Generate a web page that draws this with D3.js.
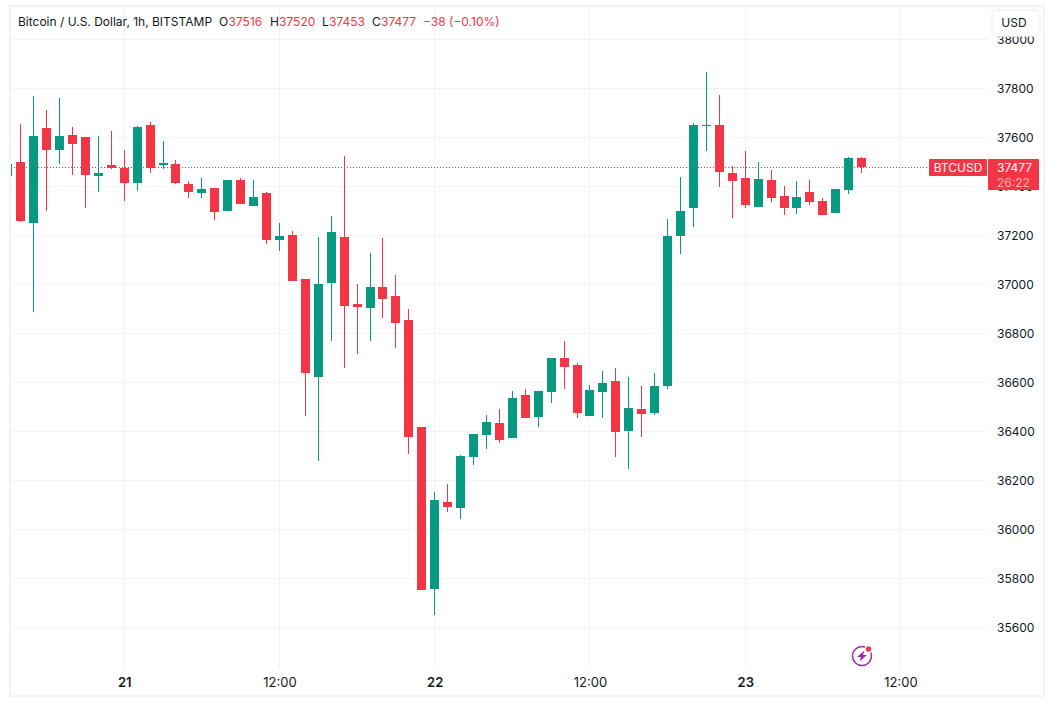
<!DOCTYPE html>
<html>
<head>
<meta charset="utf-8">
<script src="https://cdn.jsdelivr.net/npm/d3@7"></script>
<style>
html,body{margin:0;padding:0;background:#fff;overflow:hidden}
text{font-family:Inter,"Noto Sans",sans-serif;}
</style>
</head>
<body>
<div id="canvas"></div>
<script>
// hours counted from 21 00:00, first bar is cut by the left edge
var firstHour = -9;
var opens = [37442,37499,37250,37638,37548,37609,37601,37442,37487,37475,37413,37650,37487,37491,37409,37373,37393,37299,37426,37320,37373,37181,37201,37022,36622,37005,37193,36920,36903,36989,36952,36854,36418,35756,36111,36087,36295,36385,36434,36373,36548,36458,36560,36699,36671,36463,36560,36605,36401,36491,36475,36585,37197,37311,37646,37650,37454,37434,37316,37426,37360,37311,37377,37340,37291,37385,37516];
var highs = [37491,37654,37769,37711,37760,37642,37601,37605,37626,37548,37646,37662,37585,37507,37422,37434,37393,37426,37434,37426,37377,37250,37218,37022,37193,37279,37524,37001,37128,37189,37038,36899,36418,36152,36185,36303,36389,36467,36491,36565,36573,36565,36699,36769,36679,36589,36646,36658,36622,36585,36638,37267,37438,37658,37867,37773,37483,37544,37499,37467,37401,37422,37426,37352,37389,37520,37520];
var lows = [37442,37254,36887,37299,37491,37446,37311,37377,37471,37340,37381,37454,37471,37409,37352,37352,37262,37299,37328,37320,37164,37136,37013,36463,36279,36769,36658,36716,36769,36862,36740,36307,35752,35650,36071,36042,36262,36328,36352,36373,36454,36418,36515,36573,36454,36463,36454,36295,36246,36377,36467,36573,37124,37234,37544,37397,37271,37311,37316,37336,37283,37287,37324,37283,37291,37369,37453];
var closes = [37491,37258,37605,37548,37605,37573,37446,37454,37475,37413,37642,37475,37495,37413,37377,37389,37295,37426,37328,37356,37181,37197,37013,36638,37001,37213,36911,36907,36989,36940,36842,36377,35752,36120,36091,36299,36389,36438,36365,36536,36454,36565,36699,36662,36475,36569,36597,36397,36495,36471,36585,37197,37299,37650,37650,37458,37422,37324,37430,37352,37311,37356,37336,37283,37389,37516,37477];

var priceTicks = [38000,37800,37600,37400,37200,37000,36800,36600,36400,36200,36000,35800,35600];
var timeTicks = [0,12,24,36,48,60];
var timeLabels = ['21','12:00','22','12:00','23','12:00'];

var lastPrice = 37477;
var up = '#089981', down = '#f23645', grid = '#f2f3f8', frame = '#f0f3fa', ink = '#131722';

var W = 1054, H = 710;
var left = 11, right = 988, top_ = 7, bottom = 669;

var svg = d3.select('#canvas').append('svg')
    .attr('width',W).attr('height',H)
    .style('display','block');

svg.append('defs').append('clipPath').attr('id','plot-clip')
    .append('rect')
    .attr('x',left).attr('y',top_)
    .attr('width',right-left).attr('height',bottom-top_);

var x = d3.scaleLinear().domain([0,60]).range([124.2,900.48]);
var y = d3.scaleLinear().domain([37800,35600]).range([88.3,627.3]);

// frame around the widget
svg.append('rect')
    .attr('x',10).attr('y',6).attr('width',1034).attr('height',690)
    .attr('fill','#fff').attr('stroke',frame).attr('stroke-width',2);

//Grid
var gridG = svg.append('g').attr('shape-rendering','crispEdges');
gridG.selectAll('.hgrid').data(priceTicks).enter().append('line')
    .attr('class','hgrid')
    .attr('x1',left).attr('x2',right)
    .attr('y1',function(d){return Math.round(y(d))+0.5;})
    .attr('y2',function(d){return Math.round(y(d))+0.5;})
    .attr('stroke',grid);
gridG.selectAll('.vgrid').data(timeTicks).enter().append('line')
    .attr('class','vgrid')
    .attr('x1',function(d){return Math.floor(x(d))+0.5;})
    .attr('x2',function(d){return Math.floor(x(d))+0.5;})
    .attr('y1',top_).attr('y2',bottom)
    .attr('stroke',grid);

//Axes
var yAxis = d3.axisRight(y).tickValues(priceTicks).tickSize(0).tickPadding(0)
    .tickFormat(d3.format('d'));
var yG = svg.append('g').attr('transform','translate(997,0)').call(yAxis);
yG.select('.domain').remove();
yG.selectAll('text').attr('font-size',12).attr('fill',ink).attr('font-family','Inter');

var xAxis = d3.axisBottom(x).tickValues(timeTicks).tickSize(0).tickPadding(0)
    .tickFormat(function(d,i){return timeLabels[i];});
var xG = svg.append('g').attr('transform','translate(0,678)').call(xAxis);
xG.select('.domain').remove();
xG.selectAll('text').attr('font-size',13).attr('fill',ink).attr('font-family','Inter')
    .attr('font-weight',function(d,i){return timeLabels[i].length===2 ? 600 : 400;});

//Candles
var bars = opens.map(function(o,i){
    return {hour:firstHour+i, o:o, h:highs[i], l:lows[i], c:closes[i]};
});
var candles = svg.append('g').attr('clip-path','url(#plot-clip)')
    .attr('shape-rendering','crispEdges');
function color(d){ return d.c>=d.o ? up : down; }
function px(d){ return Math.floor(x(d.hour)); }

candles.selectAll('.wick').data(bars).enter().append('rect')
    .attr('class','wick')
    .attr('x',px).attr('width',1)
    .attr('y',function(d){return Math.round(y(d.h));})
    .attr('height',function(d){return Math.max(1,Math.round(y(d.l))-Math.round(y(d.h)));})
    .attr('fill',color);
candles.selectAll('.body').data(bars).enter().append('rect')
    .attr('class','body')
    .attr('x',function(d){return px(d)-4;}).attr('width',9)
    .attr('y',function(d){return Math.round(y(Math.max(d.o,d.c)));})
    .attr('height',function(d){return Math.max(1,Math.round(y(Math.min(d.o,d.c)))-Math.round(y(Math.max(d.o,d.c))));})
    .attr('fill',color);

//Last price line and labels
var ly = y(lastPrice);
svg.append('line')
    .attr('x1',left).attr('x2',929)
    .attr('y1',Math.floor(ly)+0.5).attr('y2',Math.floor(ly)+0.5)
    .attr('stroke',down).attr('stroke-dasharray','1 2')
    .attr('shape-rendering','crispEdges');
svg.append('rect').attr('x',929).attr('y',159).attr('width',58).attr('height',17)
    .attr('rx',1).attr('fill',down);
svg.append('text').attr('x',958).attr('y',172).attr('text-anchor','middle')
    .attr('font-size',12).attr('fill','#fff').text('BTCUSD');
svg.append('rect').attr('x',988).attr('y',159).attr('width',51).attr('height',31)
    .attr('rx',1).attr('fill',down);
svg.append('text').attr('x',997).attr('y',172)
    .attr('font-size',12).attr('fill','#fff').text(lastPrice);
svg.append('text').attr('x',997).attr('y',187)
    .attr('font-size',12).attr('fill','#fff').attr('fill-opacity',0.6).text('26:22');

//Header legend
var legend = [
    {x:18,t:'Bitcoin / U.S. Dollar, 1h, BITSTAMP',c:ink},
    {x:219,t:'O',c:ink},{x:228.5,t:'37516',c:down},
    {x:270,t:'H',c:ink},{x:279,t:'37520',c:down},
    {x:322,t:'L',c:ink},{x:329,t:'37453',c:down},
    {x:372,t:'C',c:ink},{x:381,t:'37477',c:down},
    {x:423,t:'\u221238 (\u22120.10%)',c:down}
];
svg.selectAll('.legend').data(legend).enter().append('text')
    .attr('class','legend')
    .attr('x',function(d){return d.x;}).attr('y',26)
    .attr('font-size',12).attr('fill',function(d){return d.c;})
    .text(function(d){return d.t;});

//Currency button
svg.append('rect').attr('x',992).attr('y',10).attr('width',48).attr('height',26)
    .attr('rx',4).attr('fill','#fff').attr('stroke',frame).attr('stroke-width',1.5);
svg.append('text').attr('x',1014).attr('y',27).attr('text-anchor','middle')
    .attr('font-size',12).attr('fill',ink).text('USD');

//Lightning badge
var badge = svg.append('g').attr('transform','translate(862,656)');
badge.append('circle').attr('r',9.5).attr('fill','none')
    .attr('stroke','#9c27b0').attr('stroke-width',1.5);
badge.append('path').attr('d','M2.5,-5.5 L-5,1 L-1,1 L-2.5,5.5 L5,-1 L1,-1 Z').attr('fill','#9c27b0');
badge.append('circle').attr('cx',6.5).attr('cy',-7).attr('r',4).attr('fill','#fff');
badge.append('circle').attr('cx',6.5).attr('cy',-7).attr('r',2.7).attr('fill',down);
</script>
</body>
</html>
